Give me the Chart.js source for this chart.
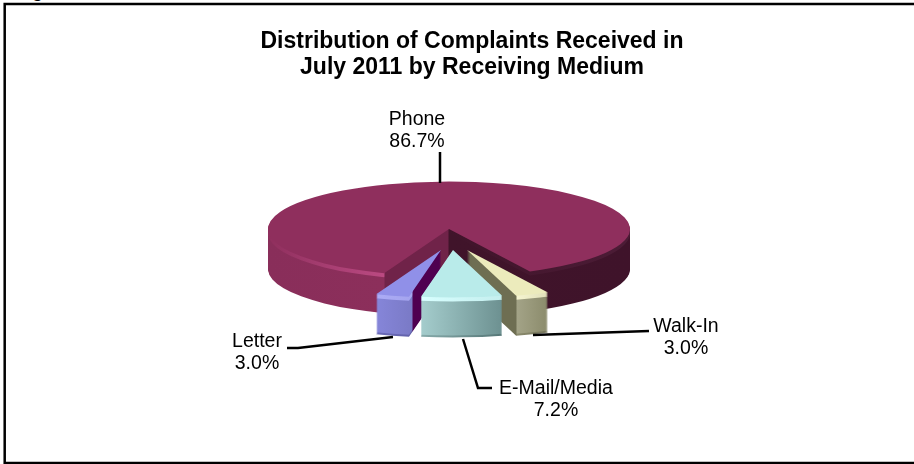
<!DOCTYPE html>
<html>
<head>
<meta charset="utf-8">
<style>
  html, body { margin: 0; padding: 0; background: #fff; overflow: hidden; }
  #fig { position: absolute; left: 16px; top: -19px; font: bold 18px "Liberation Sans"; color: #000; }
  canvas { position: absolute; left: 0; top: 0; }
</style>
<script src="https://cdn.jsdelivr.net/npm/chart.js@4"></script>
</head>
<body>
<div id="fig">Figure</div>
<canvas id="pie" width="914" height="464"></canvas>
<script>
const labels = ['Phone', 'Walk-In', 'E-Mail/Media', 'Letter'];
const shares = [86.7, 3.0, 7.2, 3.0];
const topColors = ['#8f2f5d', '#ecebbc', '#b9ebea', '#9090e8'];

// pie placement on the page
const centerX = 449, centerY = 229, tilt = 0.262, depth = 40;
// how far each slice is pulled out, in page pixels
const pullX = [0, 18, 4, -8];
const pullY = [0, 21, 21, 21];
// side wall shading, left to right: [page x, colour]
const wallStops = [
  [[269, '#892e5a'], [384, '#8c2f5b'], [385, '#702349'], [448, '#702349'], [449, '#40142a'], [631, '#3f132a']],
  [[467, '#6e6e52'], [516, '#6e6e52'], [517, '#a3a387'], [549, '#8a8a6a']],
  [[422, '#a4cccc'], [503, '#6c9090']],
  [[375, '#8686da'], [412, '#7a7ac6'], [413, '#4f0050'], [441, '#4f0050']]
];
// the lighter band just under the top face
const bevelStops = [
  [[269, '#8f2f5d'], [310, '#a03a6c'], [384, '#bb4a82'], [385, '#702349'], [448, '#702349'], [449, '#40142a'], [631, '#4c1c36']],
  [[467, '#6e6e52'], [516, '#6e6e52'], [517, '#f5f4d0'], [549, '#e0dfb8']],
  [[422, '#d8ffff'], [503, '#c4eeee']],
  [[375, '#acacf6'], [412, '#a4a4ee'], [413, '#4f0050'], [441, '#4f0050']]
];
// the darker line along the bottom of the pulled out slices
const edgeStops = [
  null,
  [[467, '#6e6e52'], [516, '#6e6e52'], [517, '#8a8a6c'], [549, '#74745a']],
  [[422, '#86aaaa'], [503, '#557676']],
  [[375, '#6a6ab8'], [412, '#6262aa'], [413, '#4f0050'], [441, '#4f0050']]
];
const drawOrder = [0, 1, 3, 2];
// label text centre and leader line for each slice
const labelPos = [[417, 119], [686, 326], [556, 388], [257, 341]];
const leaders = [
  [[440, 152], [440, 183]],
  [[533, 335], [649, 331]],
  [[463, 339], [478, 388], [492, 388]],
  [[287, 348], [298, 348], [393, 337]]
];

function wallGradient(ctx, stops) {
  const first = stops[0][0], last = stops[stops.length - 1][0];
  const g = ctx.createLinearGradient(first, 0, last, 0);
  stops.forEach(s => g.addColorStop((s[0] - first) / (last - first), s[1]));
  return g;
}

const pie3d = {
  id: 'pie3d',
  afterDatasetsUpdate(chart) {
    chart.getDatasetMeta(0).data.forEach((arc, i) => {
      arc.x = centerX + pullX[i];
      arc.y = centerY + pullY[i] / tilt;
    });
  },
  beforeDatasetDraw(chart) {
    const ctx = chart.ctx;
    const arcs = chart.getDatasetMeta(0).data;
    ctx.save();
    ctx.translate(0, centerY);
    ctx.scale(1, tilt);
    ctx.translate(0, -centerY);
    drawOrder.forEach(i => {
      const arc = arcs[i];
      const base = arc.options;
      const wall = wallGradient(ctx, wallStops[i]);
      const bevel = wallGradient(ctx, bevelStops[i]);
      const edge = edgeStops[i] ? wallGradient(ctx, edgeStops[i]) : wall;
      for (let d = depth; d >= 1; d--) {
        const fill = d <= 4 ? bevel : (d >= depth - 1 ? edge : wall);
        arc.options = Object.create(base, { backgroundColor: { value: fill } });
        ctx.save();
        ctx.translate(0, d / tilt);
        arc.draw(ctx);
        ctx.restore();
      }
      arc.options = base;
    });
  },
  afterDatasetDraw(chart) {
    chart.ctx.restore();
  },
  afterDraw(chart) {
    const ctx = chart.ctx;
    ctx.save();
    // frame, the right side is cut off in the picture
    ctx.strokeStyle = '#000';
    ctx.lineWidth = 2.5;
    ctx.beginPath();
    ctx.moveTo(914, 4);
    ctx.lineTo(4.7, 4);
    ctx.lineTo(4.7, 463);
    ctx.lineTo(914, 463);
    ctx.stroke();
    // leaders
    leaders.forEach(pts => {
      ctx.beginPath();
      pts.forEach((p, k) => k ? ctx.lineTo(p[0], p[1]) : ctx.moveTo(p[0], p[1]));
      ctx.stroke();
    });
    // labels
    ctx.fillStyle = '#000';
    ctx.font = '19.5px "Liberation Sans"';
    ctx.textAlign = 'center';
    ctx.textBaseline = 'middle';
    labels.forEach((name, i) => {
      ctx.fillText(name, labelPos[i][0], labelPos[i][1] + 1);
      ctx.fillText(shares[i].toFixed(1) + '%', labelPos[i][0], labelPos[i][1] + 23);
    });
    ctx.restore();
  }
};

new Chart(document.getElementById('pie'), {
  type: 'pie',
  data: {
    labels: labels,
    datasets: [{
      data: shares,
      backgroundColor: topColors,
      borderWidth: 0
    }]
  },
  options: {
    responsive: false,
    animation: false,
    rotation: -159,
    radius: 181,
    layout: { padding: { left: 30, top: 29 } },
    plugins: {
      legend: { display: false },
      tooltip: { enabled: false },
      title: {
        display: true,
        text: ['Distribution of Complaints Received in', 'July 2011 by Receiving Medium'],
        color: '#000',
        font: { family: '"Liberation Sans"', size: 23, weight: 'bold', lineHeight: 1.13 },
        padding: 0
      }
    }
  },
  plugins: [pie3d]
});
</script>
</body>
</html>
